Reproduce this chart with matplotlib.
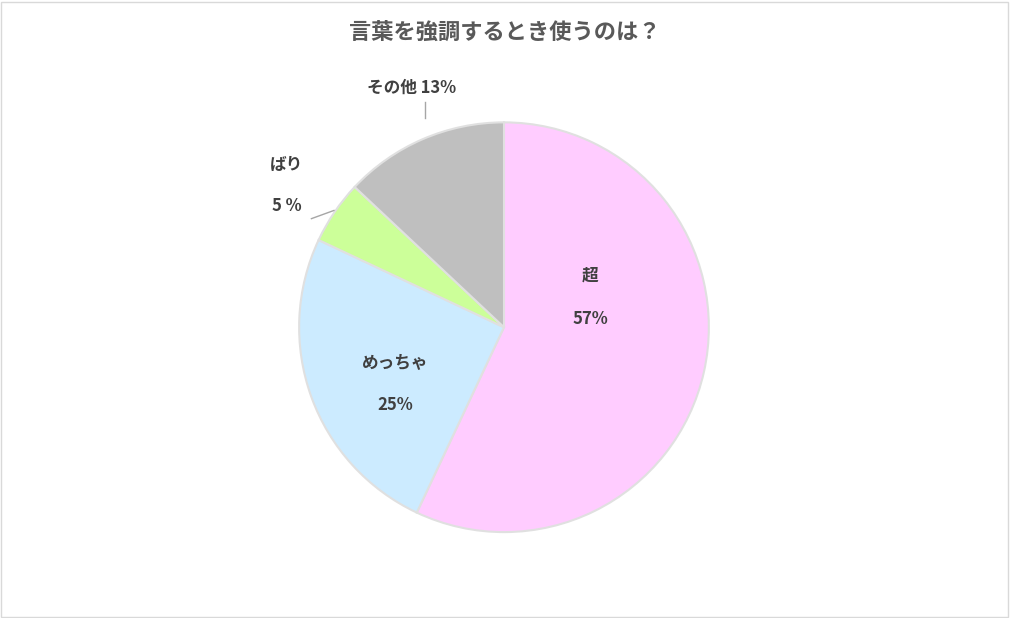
import matplotlib
matplotlib.use("Agg")
import matplotlib.pyplot as plt
from matplotlib.patches import Rectangle

plt.rcParams['font.family'] = ['Noto Sans CJK JP', 'DejaVu Sans']

title = "言葉を強調するとき使うのは？"
categories = ["超", "めっちゃ", "ばり", "その他"]
values = [57, 25, 5, 13]
colors = ["#FFCCFF", "#CCEBFF", "#CCFF99", "#BFBFBF"]

fig = plt.figure(figsize=(10.1, 6.18), dpi=100)
fig.patches.append(Rectangle((0.001, 0.002), 0.997, 0.995, transform=fig.transFigure,
                             fill=False, edgecolor="#D9D9D9", linewidth=1))
fig.text(0.5, 0.948, title, ha="center", va="center", fontsize=16,
         fontweight="bold", color="#595959")

ax = fig.add_axes([0.296, 0.139, 0.406, 0.663])
ax.pie(values, colors=colors, startangle=90, counterclock=False,
       wedgeprops=dict(edgecolor="#E0E0E0", linewidth=1.5))
ax.set_xlim(-1, 1); ax.set_ylim(-1, 1)
ax.set_aspect("equal")

kw = dict(ha="center", va="center", fontsize=12, fontweight="bold", color="#404040")
ax.text(0.42, 0.25, categories[0], **kw)
ax.text(0.42, 0.04, f"{values[0]}%", **kw)
ax.text(-0.53, -0.17, categories[1], **kw)
ax.text(-0.53, -0.38, f"{values[1]}%", **kw)
ax.text(-1.06, 0.79, categories[2], clip_on=False, **kw)
ax.text(-1.06, 0.59, f"{values[2]} %", clip_on=False, **kw)
ax.text(-0.45, 1.17, f"{categories[3]} {values[3]}%", clip_on=False, **kw)
ax.plot([-0.94, -0.83], [0.53, 0.57], color="#A6A6A6", lw=1, clip_on=False)
ax.plot([-0.385, -0.385], [1.02, 1.1], color="#A6A6A6", lw=1, clip_on=False)

fig.savefig("out.png", dpi=100)
